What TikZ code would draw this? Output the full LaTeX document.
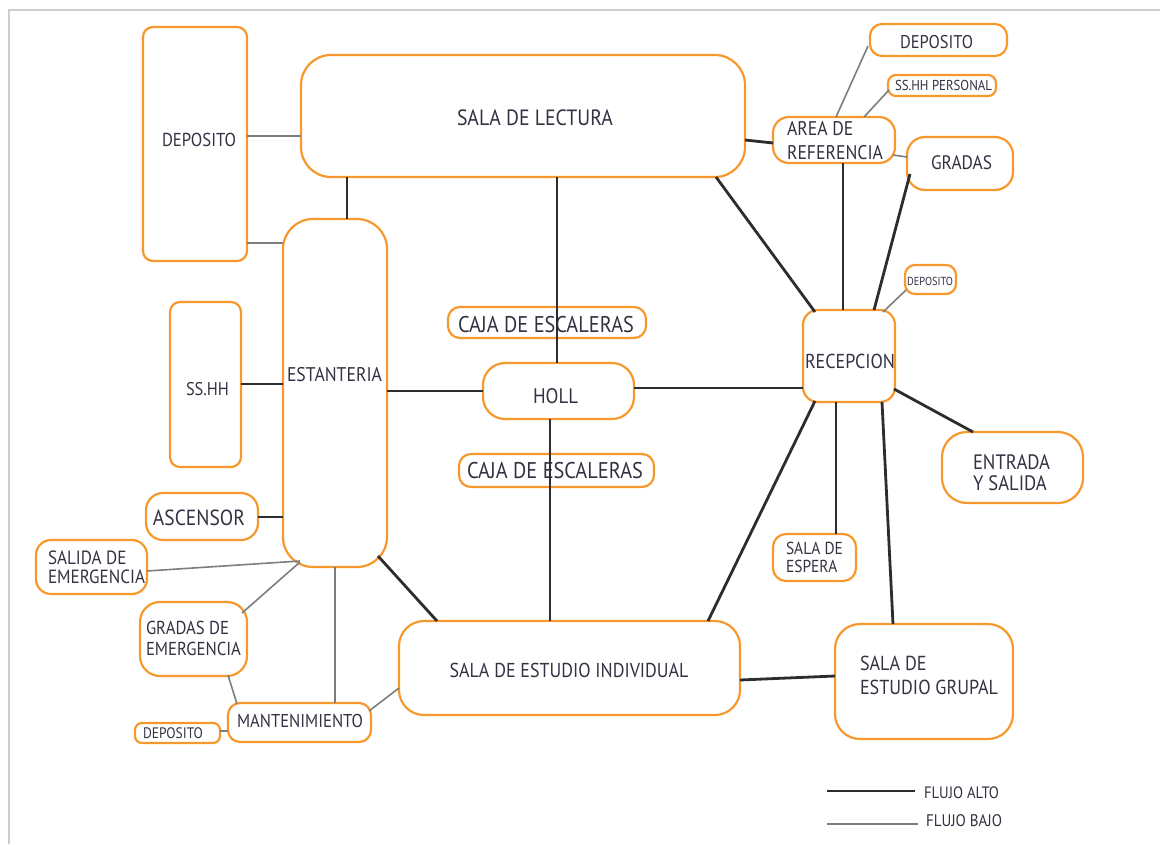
\documentclass[tikz,border=0pt]{standalone}
\usepackage{fontspec}
\setmainfont{PT Sans}
\usetikzlibrary{calc}
\definecolor{orng}{RGB}{247,152,45}
\definecolor{txtc}{RGB}{50,50,66}
\definecolor{hi}{RGB}{45,45,45}
\definecolor{lo}{RGB}{125,125,125}
\definecolor{brd}{RGB}{205,205,205}
\newcommand{\fw}[2]{\resizebox{#1pt}{!}{\scalebox{1}[1.12]{#2}}}
\newcommand{\fwl}[3]{\resizebox{#1pt}{!}{\scalebox{1}[1.12]{\fontsize{10}{#2}\selectfont\begin{tabular}{@{}l@{}}#3\end{tabular}}}}
\tikzset{
  box/.style={draw=orng, line width=2.2pt, rounded corners=#1, inner sep=0pt, outer sep=0pt},
  box/.default=12pt,
  lbl/.style={text=txtc, inner sep=0pt, outer sep=0pt},
  alto/.style={draw=hi, line width=2.8pt},
  bajo/.style={draw=lo, line width=1.6pt},
}
\begin{document}
\begin{tikzpicture}[x=1pt,y=-1pt]
\useasboundingbox (0,0) rectangle (1160,844);
\draw[brd, line width=2pt] (9,844) -- (9,10) -- (1160,10);

% boxes
\node[box=10pt, minimum width=104pt, minimum height=234pt] (depL) at (195,144) {};
\node[box=30pt, minimum width=444pt, minimum height=122pt] (lect) at (523,116) {};
\node[box=30pt, minimum width=104pt, minimum height=348pt] (est) at (335,393) {};
\node[box=10pt, minimum width=71pt, minimum height=165pt] (sshh) at (205.5,384.5) {};
\node[box=17pt, minimum width=112pt, minimum height=47pt] (asc) at (202,516.5) {};
\node[box=15pt, minimum width=111pt, minimum height=54pt] (salida) at (91.5,567) {};
\node[box=20pt, minimum width=107pt, minimum height=74pt] (gradE) at (193.5,639) {};
\node[box=12pt, minimum width=143pt, minimum height=39pt] (mant) at (299.5,722.5) {};
\node[box=7pt, minimum width=85pt, minimum height=20pt] (depB) at (177.5,733) {};
\node[box=12pt, minimum width=198pt, minimum height=31pt] (caja1) at (547,322.5) {};
\node[box=22pt, minimum width=151pt, minimum height=56pt] (holl) at (558.5,391) {};
\node[box=12pt, minimum width=195pt, minimum height=33pt] (caja2) at (556.5,470.5) {};
\node[box=15pt, minimum width=92pt, minimum height=92pt] (recep) at (849,356) {};
\node[box=25pt, minimum width=141pt, minimum height=71pt] (entrada) at (1012.5,467.5) {};
\node[box=13pt, minimum width=83pt, minimum height=47pt] (espera) at (814.5,557.5) {};
\node[box=25pt, minimum width=341pt, minimum height=94pt] (indiv) at (569.5,668) {};
\node[box=25pt, minimum width=178pt, minimum height=115pt] (grupal) at (924,681.5) {};
\node[box=16pt, minimum width=122pt, minimum height=46pt] (area) at (834,140) {};
\node[box=12pt, minimum width=137pt, minimum height=32pt] (depT) at (938.5,40) {};
\node[box=8pt, minimum width=108pt, minimum height=21pt] (ssper) at (942,85.5) {};
\node[box=18pt, minimum width=106pt, minimum height=53pt] (gradas) at (960,163.5) {};
\node[box=10pt, minimum width=51pt, minimum height=29pt] (depS) at (930.5,279.5) {};

% texts
\node[lbl] (depLt) at (199,139.5) {\fw{74}{DEPOSITO}};
\node[lbl] (lectt) at (535,118) {\fw{156}{SALA DE LECTURA}};
\node[lbl] (estt) at (334.5,375) {\fw{95}{ESTANTERIA}};
\node[lbl] (sshht) at (207.5,389) {\fw{43}{SS.HH}};
\node[lbl] (asct) at (199,517.5) {\fw{92}{ASCENSOR}};
\node[lbl, anchor=west] (salidat) at (48,570) {\fwl{97}{9.6}{SALIDA DE\\EMERGENCIA}};
\node[lbl, anchor=west] (gradEt) at (146,641) {\fwl{95}{11.3}{GRADAS DE\\EMERGENCIA}};
\node[lbl] (mantt) at (300,720.5) {\fw{126}{MANTENIMIENTO}};
\node[lbl] (depBt) at (173,733) {\fw{60}{DEPOSITO}};
\node[lbl] (caja1t) at (546,324.5) {\fw{176}{CAJA DE ESCALERAS}};
\node[lbl] (hollt) at (555.5,396.5) {\fw{45}{HOLL}};
\node[lbl] (caja2t) at (555,471) {\fw{176}{CAJA DE ESCALERAS}};
\node[lbl] (recept) at (850,361) {\fw{90}{RECEPCION}};
\node[lbl, anchor=west] (entradat) at (973,476) {\fwl{77}{10.1}{ENTRADA\\Y SALIDA}};
\node[lbl, anchor=west] (esperat) at (786,560) {\fwl{57}{10}{SALA DE\\ESPERA}};
\node[lbl] (indivt) at (569,670) {\fw{239}{SALA DE ESTUDIO INDIVIDUAL}};
\node[lbl, anchor=west] (grupalt) at (860,678) {\fwl{138}{11.9}{SALA DE\\ESTUDIO GRUPAL}};
\node[lbl, anchor=west] (areat) at (787,143) {\fwl{96}{12}{AREA DE\\REFERENCIA}};
\node[lbl] (depTt) at (936.5,42.5) {\fw{73}{DEPOSITO}};
\node[lbl] (sspert) at (943.5,85.5) {\fw{97}{SS.HH PERSONAL}};
\node[lbl] (gradast) at (961.5,163) {\fw{61}{GRADAS}};
\node[lbl] (depSt) at (930,281) {\fw{46}{DEPOSITO}};

% flujo bajo
\draw[bajo] (depL.east |- 0,136) -- (lect.west |- 0,136);
\draw[bajo] (depL.east |- 0,243) -- (est.west |- 0,243);
\draw[bajo] (salida.east |- 0,571) -- ($(est.center)+(-35,168)$);
\draw[bajo] ($(gradE.center)+(48.5,-26)$) -- ($(est.center)+(-35,169)$);
\draw[bajo] (est.south) -- (mant.north -| est.south);
\draw[bajo] ($(gradE.center)+(34.5,36)$) -- ($(mant.center)+(-62.5,-18.5)$);
\draw[bajo] (depB.east |- 0,731) -- (mant.west |- 0,731);
\draw[bajo] ($(mant.center)+(69.5,-11.5)$) -- ($(indiv.center)+(-170.5,20)$);
\draw[bajo] ($(area.center)+(2,-23)$) -- ($(depT.center)+(-70.5,6)$);
\draw[bajo] ($(area.center)+(30,-23)$) -- ($(ssper.center)+(-53,4.5)$);
\draw[bajo] ($(area.center)+(59,15)$) -- ($(gradas.center)+(-53,-6.5)$);
\draw[bajo] ($(recep.center)+(34,-44)$) -- ($(depS.center)+(-24.5,10.5)$);

% flujo alto
\draw[alto] (lect.south -| 347,0) -- (est.north -| 347,0);
\draw[alto] (lect.south -| 557,0) -- (holl.north -| 557,0);
\draw[alto] (lect.east |- 0,140) -- (area.west |- 0,143);
\draw[alto] (lect.south -| 716,0) -- ($(recep.center)+(-34,-44)$);
\draw[alto] (area.south -| 843,0) -- (recep.north -| 843,0);
\draw[alto] ($(gradas.center)+(-50,10.5)$) -- ($(recep.center)+(25,-46)$);
\draw[alto] (est.east |- 0,391) -- (holl.west |- 0,391);
\draw[alto] (sshh.east |- 0,384) -- (est.west |- 0,384);
\draw[alto] (asc.east |- 0,517) -- (est.west |- 0,517);
\draw[alto] (holl.east |- 0,388) -- (recep.west |- 0,388);
\draw[alto] (holl.south -| 550,0) -- (indiv.north -| 550,0);
\draw[alto] ($(est.center)+(43,163)$) -- (indiv.north -| 437,0);
\draw[alto] ($(recep.center)+(-34,45)$) -- (indiv.north -| 708,0);
\draw[alto] (recep.south -| 836,0) -- (espera.north -| 836,0);
\draw[alto] (recep.south -| 882,0) -- (grupal.north -| 893,0);
\draw[alto] ($(recep.center)+(45,33)$) -- (entrada.north -| 973,0);
\draw[alto] (indiv.east |- 0,680) -- (grupal.west |- 0,676);

% legend
\coordinate (la1) at (827,791);
\coordinate (la2) at (915,791);
\coordinate (lb1) at (827,824);
\coordinate (lb2) at (918,824);
\draw[alto] (la1) -- (la2);
\draw[bajo] (lb1) -- (lb2);
\node[lbl, anchor=west] (legA) at (924,792.5) {\fw{75}{FLUJO ALTO}};
\node[lbl, anchor=west] (legB) at (926,820.5) {\fw{76}{FLUJO BAJO}};
\end{tikzpicture}
\end{document}
